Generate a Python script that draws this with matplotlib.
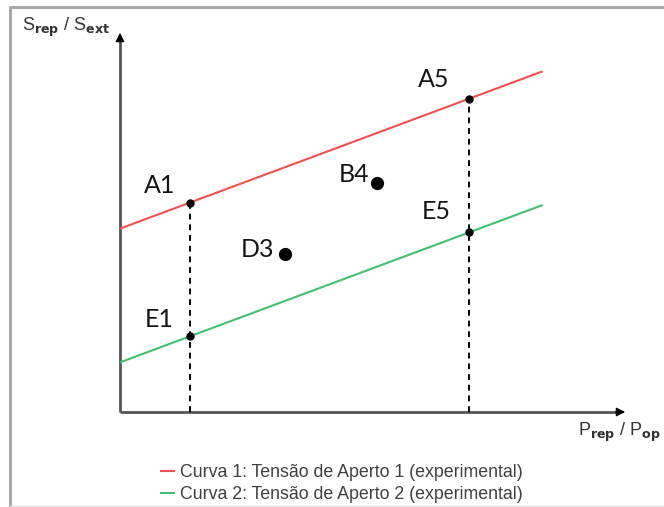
import matplotlib
matplotlib.use("Agg")
import matplotlib.pyplot as plt
import numpy as np

plt.rcParams['mathtext.fontset'] = 'custom'
plt.rcParams['mathtext.rm'] = 'Liberation Sans'
plt.rcParams['mathtext.it'] = 'Liberation Sans'

# Schematic stress-ratio curves (arbitrary units)
curve_names = ["Curva 1: Tensão de Aperto 1 (experimental)",
               "Curva 2: Tensão de Aperto 2 (experimental)"]
curve_colors = ["#f05050", "#40c070"]
curve_intercepts = [4.8, 1.3]
curve_slope = 0.495
curve_x_end = 8.3

# Vertical reference positions (load ratios 1 and 5)
ref_x = [1.38, 6.87]
ref_labels_top = ["A1", "A5"]
ref_labels_bottom = ["E1", "E5"]

# Isolated test points
pt_labels = ["D3", "B4"]
pt_x = [3.25, 5.06]
pt_y = [4.14, 5.99]

W, H = 664, 507
fig = plt.figure(figsize=(W / 100, H / 100), dpi=100)

# outer frame
bg = fig.add_axes([0, 0, 1, 1])
bg.set_xlim(0, W)
bg.set_ylim(H, 0)
bg.axis('off')
bg.plot([10, 10, W], [H, 7, 7], color="#a8a8a8", lw=2.2, solid_capstyle='butt')
bg.plot([10, W], [505.5, 505.5], color="#e0e0e0", lw=1)

x0, y0, x1, y1 = 120, 412, 628, 30
ax = fig.add_axes([x0 / W, 1 - y0 / H, (x1 - x0) / W, (y0 - y1) / H])
ax.set_xlim(0, 10)
ax.set_ylim(0, 10)
ax.axis('off')
ax.patch.set_alpha(0)

# axes with arrows
ax.plot([0, 9.8], [0, 0], color="#555555", lw=2, solid_capstyle='butt', clip_on=False)
ax.plot([0, 0], [0, 9.8], color="#555555", lw=2, solid_capstyle='butt', clip_on=False)
ax.annotate("", xy=(10, 0), xytext=(9.7, 0),
            arrowprops=dict(arrowstyle="-|>", color="black", lw=1, mutation_scale=13),
            annotation_clip=False)
ax.annotate("", xy=(0, 10), xytext=(0, 9.7),
            arrowprops=dict(arrowstyle="-|>", color="black", lw=1, mutation_scale=13),
            annotation_clip=False)

xs = np.array([0, curve_x_end])
for b, c, name in zip(curve_intercepts, curve_colors, curve_names):
    ax.plot(xs, b + curve_slope * xs, color=c, lw=1.5, label=name)

lbl_kw = dict(fontsize=18, family="Lato", ha='center', va='center', color="#151515")
top_dx = [-0.6, -0.7]
top_dy = [0.45, 0.5]
bot_dx = [-0.6, -0.65]
bot_dy = [0.45, 0.55]
for i, xr in enumerate(ref_x):
    ytop = curve_intercepts[0] + curve_slope * xr
    ybot = curve_intercepts[1] + curve_slope * xr
    ax.plot([xr, xr], [0, ytop], color="black", lw=1.4, ls=(0, (3, 2.5)))
    ax.plot([xr, xr], [ytop, ybot], 'o', color="black", ms=5)
    ax.text(xr + top_dx[i], ytop + top_dy[i], ref_labels_top[i], **lbl_kw)
    ax.text(xr + bot_dx[i], ybot + bot_dy[i], ref_labels_bottom[i], **lbl_kw)

ax.plot(pt_x, pt_y, 'o', color="black", ms=8.5)
pt_dx = [-0.55, -0.45]
pt_dy = [0.12, 0.22]
for lx, px, py, dx, dy in zip(pt_labels, pt_x, pt_y, pt_dx, pt_dy):
    ax.text(px + dx, py + dy, lx, **lbl_kw)

fig.text(22 / W, 1 - 27 / H, r'S$_{\mathbf{rep}}$ / S$_{\mathbf{ext}}$',
         fontsize=13, family="Liberation Sans", color="#333333", ha='left', va='center')
fig.text(578 / W, 1 - 432 / H, r'P$_{\mathbf{rep}}$ / P$_{\mathbf{op}}$',
         fontsize=13, family="Liberation Sans", color="#333333", ha='left', va='center')

leg = fig.legend(loc='upper left', bbox_to_anchor=(152 / W, 1 - 455 / H),
                 frameon=False, handlelength=0.75, handletextpad=0.35,
                 labelspacing=0.3, borderpad=0,
                 prop={'family': 'Liberation Sans', 'size': 12.8})
for t in leg.get_texts():
    t.set_color("#404040")

fig.savefig("out.png", dpi=100)
